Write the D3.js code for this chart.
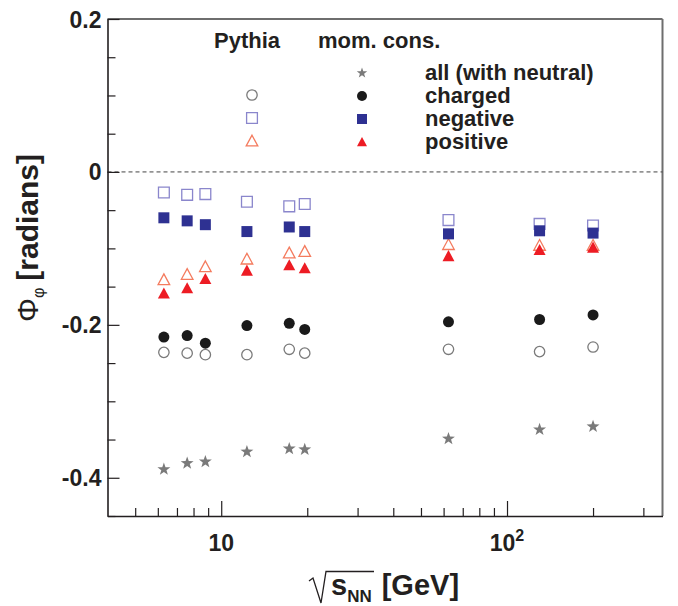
<!DOCTYPE html>
<html><head><meta charset="utf-8">
<script src="https://cdn.jsdelivr.net/npm/d3@7"></script>
<style>body{margin:0;background:#fff} text{font-family:"Liberation Sans",Arial,Helvetica,sans-serif;font-weight:bold;fill:#231f20}</style>
</head><body>
<svg id="c" width="678" height="606"></svg>
<script>
// ---- data ----
const energies = [6.3, 7.6, 8.8, 12.3, 17.3, 19.6, 62.4, 130, 200];
const allNeutral = [-0.389, -0.381, -0.379, -0.366, -0.362, -0.363, -0.349, -0.337, -0.333];
const charged = [-0.216, -0.214, -0.224, -0.201, -0.198, -0.206, -0.196, -0.193, -0.187];
const negative = [-0.060, -0.064, -0.069, -0.078, -0.072, -0.078, -0.081, -0.077, -0.080];
const positive = [-0.159, -0.152, -0.140, -0.129, -0.122, -0.126, -0.110, -0.102, -0.099];
const pythiaCharged = [-0.236, -0.237, -0.239, -0.239, -0.232, -0.237, -0.232, -0.235, -0.229];
const pythiaNegative = [-0.027, -0.030, -0.029, -0.039, -0.045, -0.042, -0.063, -0.068, -0.070];
const pythiaPositive = [-0.141, -0.134, -0.124, -0.114, -0.106, -0.104, -0.095, -0.096, -0.096];
const yMajorTicks = [-0.4, -0.2, 0, 0.2];
const yTickLabels = ["-0.4", "-0.2", "0", "0.2"];
const yMinorTicks = [-0.45, -0.35, -0.3, -0.25, -0.15, -0.1, -0.05, 0.05, 0.1, 0.15];
const xMajorTicks = [10, 100];
const xTickLabels = [["10", ""], ["10", "2"]];
const xMinorTicks = [5, 6, 7, 8, 9, 20, 30, 40, 50, 60, 70, 80, 90, 200, 300];
const legendLabels = ["all (with neutral)", "charged", "negative", "positive"];

const svg = d3.select("#c");
const x = d3.scaleLog().domain([4, 350]).range([107.5, 662.5]);
const y = d3.scaleLinear().domain([-0.45, 0.2]).range([516, 19]);

// frame (top/right grey)
svg.append("line").attr("x1", 107.5).attr("x2", 662.5).attr("y1", 19).attr("y2", 19)
  .attr("stroke", "#6e6e6e").attr("stroke-width", 2);
svg.append("line").attr("x1", 662.5).attr("x2", 662.5).attr("y1", 19).attr("y2", 516)
  .attr("stroke", "#6e6e6e").attr("stroke-width", 2);

// dashed zero line
svg.append("line").attr("x1", 107.5).attr("x2", 662.5).attr("y1", y(0)).attr("y2", y(0))
  .attr("stroke", "#444").attr("stroke-width", 1).attr("stroke-dasharray", "4,3");

// y axis
const gy = svg.append("g").attr("transform", "translate(107.5,0)");
gy.call(d3.axisLeft(y).tickValues(yMinorTicks).tickSize(-8).tickSizeOuter(0).tickFormat(""));
gy.call(g => g.select(".domain").remove());
const gy2 = svg.append("g").attr("transform", "translate(107.5,0)");
gy2.call(d3.axisLeft(y).tickValues(yMajorTicks).tickSize(-12).tickSizeOuter(0).tickPadding(6)
  .tickFormat((d, i) => yTickLabels[i]));
svg.selectAll("g .tick line").attr("stroke", "#231f20").attr("stroke-width", 1.2);
gy2.select(".domain").attr("stroke", "#231f20").attr("stroke-width", 1.6);
gy2.selectAll("text").attr("font-size", 23).attr("dy", "0.35em")
  .style("font-family", "'Liberation Sans',Arial,sans-serif").style("font-weight", "bold").attr("fill", "#231f20");

// x axis
const gx = svg.append("g").attr("transform", "translate(0,516)");
gx.call(d3.axisBottom(x).tickValues(xMinorTicks).tickSize(-8).tickSizeOuter(0).tickFormat(""));
gx.call(g => g.select(".domain").remove());
const gx2 = svg.append("g").attr("transform", "translate(0,516)");
gx2.call(d3.axisBottom(x).tickValues(xMajorTicks).tickSize(-15).tickSizeOuter(0).tickFormat(""));
gx2.select(".domain").attr("stroke", "#231f20").attr("stroke-width", 1.6);
svg.selectAll("g .tick line").attr("stroke", "#231f20").attr("stroke-width", 1.2);
xMajorTicks.forEach((v, i) => {
  const t = svg.append("text").attr("x", x(v)).attr("y", 551).attr("text-anchor", "middle").attr("font-size", 23);
  t.append("tspan").text(xTickLabels[i][0]);
  if (xTickLabels[i][1]) t.append("tspan").attr("font-size", 16).attr("dy", -10).text(xTickLabels[i][1]);
});

// axis titles
const xt = svg.append("text").attr("x", 331).attr("y", 595).attr("font-size", 29);
xt.append("tspan").text("s");
xt.append("tspan").attr("font-size", 17).attr("dy", 7).text("NN");
xt.append("tspan").attr("dy", -7).attr("dx", 10).text("[GeV]");
svg.append("path").attr("d", "M309,581 L313,578 L321,603 L326,571.5 L374,571.5")
  .attr("fill", "none").attr("stroke", "#231f20").attr("stroke-width", 1.3);

const yt = svg.append("text").attr("transform", "translate(38,322) rotate(-90)").attr("font-size", 30);
yt.append("tspan").style("font-weight", "normal").text("Φ");
yt.append("tspan").attr("font-size", 16).attr("dy", 6).style("font-weight", "normal").text("φ");
yt.append("tspan").attr("dy", -6).attr("dx", 7).text("[radians]");

// marker shapes
const shapes = {
  star: (R) => {
    const r = R * 0.4; let p = "";
    for (let k = 0; k < 10; k++) {
      const a = -Math.PI / 2 + k * Math.PI / 5, rr = k % 2 ? r : R;
      p += (k ? "L" : "M") + (rr * Math.cos(a)).toFixed(2) + "," + (rr * Math.sin(a)).toFixed(2);
    }
    return p + "Z";
  },
  circle: (r) => `M${-r},0A${r},${r} 0 1,0 ${r},0A${r},${r} 0 1,0 ${-r},0Z`,
  square: (h) => `M${-h},${-h}H${h}V${h}H${-h}Z`,
  triangle: (h) => `M0,${-h}L${h},${h * 0.85}L${-h},${h * 0.85}Z`
};

const series = [
  {vals: pythiaCharged, shape: "circle", size: 5.2, fill: "none", stroke: "#7a7a7a"},
  {vals: pythiaNegative, shape: "square", size: 5.4, fill: "none", stroke: "#8a86cc"},
  {vals: pythiaPositive, shape: "triangle", size: 5.8, fill: "none", stroke: "#f47b5e"},
  {vals: allNeutral, shape: "star", size: 6.8, fill: "#7a7a7a", stroke: "none"},
  {vals: charged, shape: "circle", size: 5.5, fill: "#1a1a1a", stroke: "none"},
  {vals: negative, shape: "square", size: 5.5, fill: "#2e3192", stroke: "none"},
  {vals: positive, shape: "triangle", size: 6, fill: "#ed1c24", stroke: "none"}
];
series.forEach(s => {
  svg.append("g").selectAll("path").data(energies.map((e, i) => [e, s.vals[i]])).join("path")
    .attr("transform", d => `translate(${x(d[0])},${y(d[1])})`)
    .attr("d", shapes[s.shape](s.size))
    .attr("fill", s.fill).attr("stroke", s.stroke).attr("stroke-width", 1.3);
});

// legend
svg.append("text").attr("x", 214).attr("y", 48).attr("font-size", 22).text("Pythia");
svg.append("text").attr("x", 318).attr("y", 48).attr("font-size", 22).text("mom. cons.");
const rowsY = [73, 96, 119, 142];
[3, 4, 5, 6].forEach((si, i) => {
  const s = series[si];
  svg.append("path").attr("transform", `translate(362,${rowsY[i]})`).attr("d", shapes[s.shape](s.shape === "star" ? 5.5 : 5))
    .attr("fill", s.fill);
  svg.append("text").attr("x", 425).attr("y", rowsY[i] + 7).attr("font-size", 22).text(legendLabels[i]);
});
[0, 1, 2].forEach((si, i) => {
  const s = series[si];
  svg.append("path").attr("transform", `translate(252,${rowsY[i + 1] - 1})`).attr("d", shapes[s.shape](s.size))
    .attr("fill", "none").attr("stroke", s.stroke).attr("stroke-width", 1.3);
});
</script>
</body></html>
